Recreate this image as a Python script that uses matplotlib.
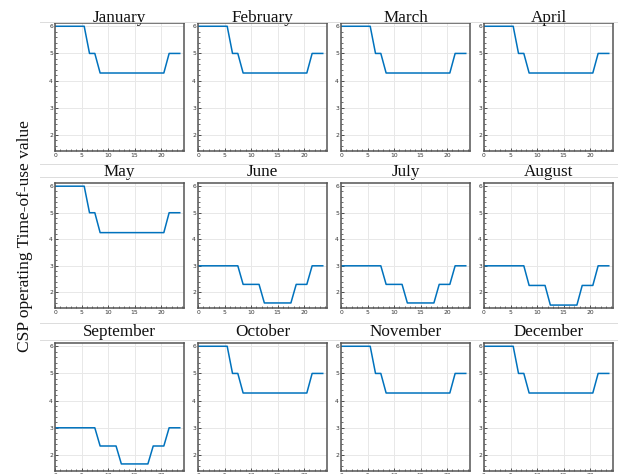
import numpy as np
import matplotlib
matplotlib.use("Agg")
import matplotlib.pyplot as plt
from matplotlib.ticker import MultipleLocator
from matplotlib.lines import Line2D

months = ["January", "February", "March", "April", "May", "June",
          "July", "August", "September", "October", "November", "December"]

# hour axis: first sample at 0, the rest at hour mid-points
hours = [0] + [h + 0.5 for h in range(1, 24)]

# time-of-use profiles (value per hour, 0-23)
winter = [6, 6, 6, 6, 6, 6, 5, 5] + [4.28] * 13 + [5, 5, 5]
may_tou = [6, 6, 6, 6, 6, 6, 5, 5] + [4.25] * 13 + [5, 5, 5]
june_tou = [3] * 8 + [2.3] * 4 + [1.6] * 6 + [2.3] * 3 + [3] * 3
july_tou = [3] * 8 + [2.3] * 4 + [1.6] * 6 + [2.3] * 3 + [3] * 3
aug_tou = [3] * 8 + [2.26] * 4 + [1.52] * 6 + [2.26] * 3 + [3] * 3
sep_tou = [3] * 8 + [2.33] * 4 + [1.67] * 6 + [2.33] * 3 + [3] * 3

profiles = [winter, winter, winter, winter, may_tou, june_tou,
            july_tou, aug_tou, sep_tou, winter, winter, winter]

W, H = 618, 474
fig = plt.figure(figsize=(W / 100, H / 100), dpi=100)

col_left = [55, 198, 341, 484]
row_top = [23, 183, 343]
row_h = [128, 125, 128]
ax_w = 129

serif = ["Liberation Serif", "DejaVu Serif"]

for i, (name, vals) in enumerate(zip(months, profiles)):
    r, c = divmod(i, 4)
    left = col_left[c] / W
    bottom = 1 - (row_top[r] + row_h[r]) / H
    ax = fig.add_axes([left, bottom, ax_w / W, row_h[r] / H])
    ax.plot(hours, vals, color="#0072BD", lw=1.1)
    ax.set_xlim(0, 24.3)
    ax.set_ylim(1.41, 6.12)
    ax.xaxis.set_major_locator(MultipleLocator(5))
    ax.xaxis.set_minor_locator(MultipleLocator(1))
    ax.yaxis.set_major_locator(MultipleLocator(1))
    ax.yaxis.set_minor_locator(MultipleLocator(0.2))
    ax.grid(True, which="major", color="#e8e8e8", lw=0.7)
    ax.set_axisbelow(True)
    ax.tick_params(which="both", direction="in", colors="#333333",
                   labelsize=4.3, pad=1.5)
    ax.tick_params(which="major", length=2.5, width=0.6)
    ax.tick_params(which="minor", length=1.3, width=0.5)
    for s in ax.spines.values():
        s.set_color("#555555")
        s.set_linewidth(1.1)
    ax.text(0.5, 1.0 + (1 if r == 0 else 7.5) / row_h[r], name,
            transform=ax.transAxes, ha="center", va="baseline",
            family=serif, fontsize=12.3, color="#111111")

# thin separator rules around the title strips
for y in [22, 164.5, 177.5, 323, 339.5]:
    fig.add_artist(Line2D([40 / W, 1], [1 - y / H, 1 - y / H],
                          transform=fig.transFigure, color="#dcdcdc", lw=0.7))

fig.text(25 / W, 1 - 236 / H, "CSP operating Time-of-use value",
         rotation=90, ha="center", va="center", family=serif,
         fontsize=12.5, color="#111111")

fig.savefig("out.png", dpi=100)
